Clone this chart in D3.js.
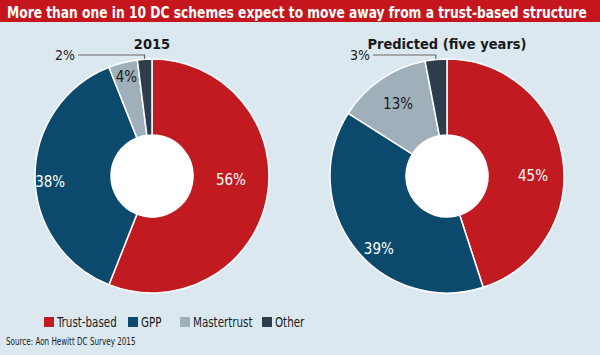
<!DOCTYPE html>
<html><head><meta charset="utf-8">
<script src="https://cdn.jsdelivr.net/npm/d3@7"></script>
<style>html,body{margin:0;padding:0;background:#dce8f0;}svg{display:block;}</style>
</head><body>
<script>
// ---- data ----
const categories = ["Trust-based", "GPP", "Mastertrust", "Other"];
const values2015 = [56, 38, 4, 2];
const valuesPredicted = [45, 39, 13, 3];
const chartTitles = ["2015", "Predicted (five years)"];
const headline = "More than one in 10 DC schemes expect to move away from a trust-based structure";
const sourceText = "Source: Aon Hewitt DC Survey 2015";

// ---- styles / layout ----
const W = 600, H = 355;
const colors = ["#c21a21", "#0b4a6c", "#a0b0bb", "#2c3e4c"];
const labelColors = ["#ffffff", "#ffffff", "#1a1a1a", "#1a1a1a"];
const font = "'DejaVu Sans Condensed','Liberation Sans',sans-serif";

const svg = d3.select("body").append("svg").attr("width", W).attr("height", H);
svg.append("rect").attr("width", W).attr("height", H).attr("fill", "#dce8f0");
svg.append("rect").attr("width", W).attr("height", 22).attr("fill", "#c4161c");
const head = svg.append("text")
  .attr("fill", "#fff").attr("font-family", font).attr("font-weight", "bold")
  .attr("font-size", 16).text(headline);
const natural = head.node().getComputedTextLength();
head.attr("transform", `translate(7,17.5) scale(${580 / natural},1)`);

const rOuter = 117, rInner = 41;
const pie = d3.pie().sort(null).value(d => d);
const arc = d3.arc().innerRadius(rInner).outerRadius(rOuter);

// label placement: radius and angle (deg, clockwise from top), null angle => slice mid
const charts = [
  { values: values2015, cx: 152, cy: 176, title: chartTitles[0],
    labels: [{r: 79, a: 93}, {r: 102, a: 267}, {r: 103, a: null}, {outside: true}] },
  { values: valuesPredicted, cx: 447, cy: 176, title: chartTitles[1],
    labels: [{r: 86, a: 90}, {r: 100, a: 223}, {r: 87, a: null}, {outside: true}] }
];

charts.forEach(c => {
  const g = svg.append("g").attr("transform", `translate(${c.cx},${c.cy})`);
  const arcs = pie(c.values);
  g.selectAll("path.slice").data(arcs).join("path").attr("class", "slice")
    .attr("d", arc).attr("fill", (d, i) => colors[i])
    .attr("stroke", "#fff").attr("stroke-width", 1.5);
  g.append("circle").attr("r", rInner).attr("fill", "#fff");
  svg.append("text").attr("x", c.cx).attr("y", 49).attr("text-anchor", "middle")
    .attr("font-family", font).attr("font-weight", "bold")
    .attr("font-size", 14.5).attr("fill", "#1a1a1a").text(c.title);

  arcs.forEach((d, i) => {
    const L = c.labels[i];
    const txt = c.values[i] + "%";
    if (L.outside) {
      const mid = (d.startAngle + d.endAngle) / 2;
      const ex = Math.sin(mid) * (rOuter + 2);
      const lineY = -121;
      const lx = -74;
      g.append("path")
        .attr("d", `M${lx},${lineY}H${ex}V${lineY + 4}`)
        .attr("fill", "none").attr("stroke", "#666").attr("stroke-width", 1.2);
      g.append("text").attr("x", lx - 3).attr("y", lineY).attr("dy", "0.35em")
        .attr("text-anchor", "end").attr("font-family", font).attr("font-size", 14)
        .attr("fill", "#1a1a1a").text(txt);
    } else {
      const a = L.a === null ? (d.startAngle + d.endAngle) / 2 : L.a * Math.PI / 180;
      g.append("text").attr("x", Math.sin(a) * L.r).attr("y", -Math.cos(a) * L.r)
        .attr("dy", "0.35em").attr("text-anchor", "middle")
        .attr("font-family", font).attr("font-size", 15)
        .attr("fill", labelColors[i]).text(txt);
    }
  });
});

// legend
const legX = [44, 128, 180, 262];
const leg = svg.append("g");
categories.forEach((name, i) => {
  leg.append("rect").attr("x", legX[i]).attr("y", 317).attr("width", 10).attr("height", 10).attr("fill", colors[i]);
  leg.append("text").attr("transform", `translate(${legX[i] + 13},327) scale(0.82,1)`)
    .attr("font-family", font).attr("font-size", 14).attr("fill", "#1a1a1a").text(name);
});
svg.append("text").attr("transform", "translate(6,345) scale(0.8,1)").attr("font-family", font)
  .attr("font-size", 10).attr("fill", "#1a1a1a").text(sourceText);
</script>
</body></html>
